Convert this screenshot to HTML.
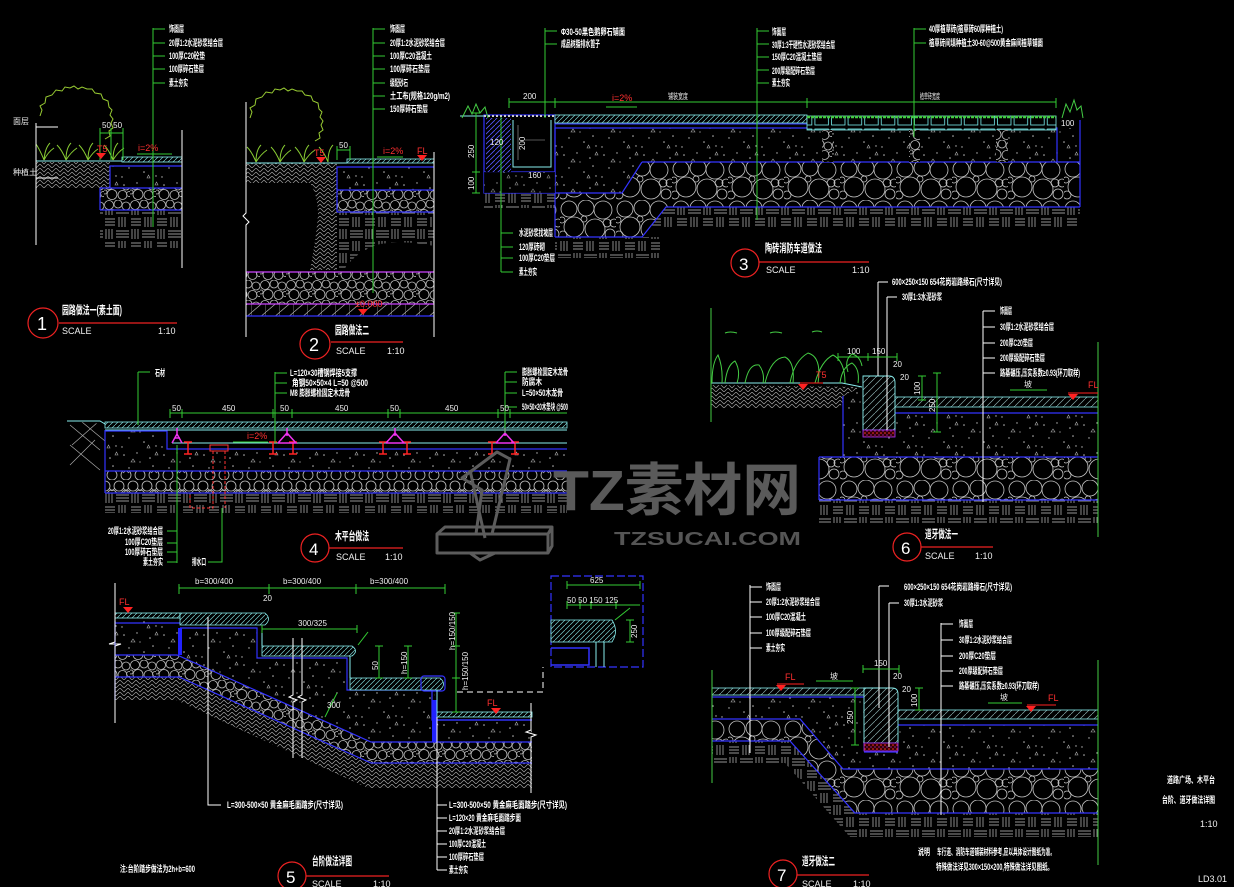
<!DOCTYPE html>
<html><head><meta charset="utf-8">
<style>
html,body{margin:0;padding:0;background:#000;width:1234px;height:887px;overflow:hidden}
svg{display:block}
text{font-family:"Liberation Sans","Noto Sans CJK SC",sans-serif;}
.l{fill:#fff;font-size:9px;font-weight:bold}
.t{fill:#fff;font-size:11.5px;font-weight:bold}
.s{fill:#f0f0f0;font-size:9px}
.g{fill:#eee;font-size:8px}
.r{fill:#ff3030;font-size:9px}
</style></head><body>
<svg width="1234" height="887" viewBox="0 0 1234 887" xmlns="http://www.w3.org/2000/svg">
<defs>
<pattern id="cob" width="26" height="20" patternUnits="userSpaceOnUse">
<rect width="26" height="20" fill="#000"/>
<g fill="none" stroke="#bdbdbd" stroke-width="0.8">
<circle cx="5" cy="5" r="4.5"/><circle cx="14" cy="4" r="4"/><circle cx="22" cy="6" r="4"/>
<circle cx="8" cy="14.5" r="5"/><circle cx="18.5" cy="15" r="4.5"/><circle cx="25" cy="14" r="2.5"/><circle cx="1" cy="12" r="2"/>
</g></pattern>
<pattern id="cobL" width="56" height="40" patternUnits="userSpaceOnUse">
<rect width="56" height="40" fill="#000"/>
<g fill="none" stroke="#c4c4c4" stroke-width="0.8">
<circle cx="9" cy="9" r="8"/><circle cx="26" cy="8" r="8"/><circle cx="43" cy="10" r="9"/><circle cx="54" cy="23" r="4"/>
<circle cx="14" cy="27" r="10"/><circle cx="35" cy="29" r="10"/><circle cx="50" cy="34" r="5"/><circle cx="3" cy="35" r="4"/>
<circle cx="24" cy="19" r="3"/><circle cx="47" cy="23" r="4"/><circle cx="2" cy="20" r="3"/>
</g></pattern>
<pattern id="cobX" width="28" height="20" patternUnits="userSpaceOnUse">
<rect width="28" height="20" fill="#000"/>
<g fill="none" stroke="#c0c0c0" stroke-width="0.8">
<circle cx="7" cy="6" r="5"/><circle cx="21" cy="6" r="5"/><circle cx="0" cy="15" r="5"/><circle cx="14" cy="15" r="5"/><circle cx="28" cy="15" r="5"/>
<path d="M11 8L17 13M17 8L11 13M25 8L28 11M3 8L0 11"/>
</g></pattern>
<pattern id="soil" width="26" height="24" patternUnits="userSpaceOnUse">
<rect width="26" height="24" fill="#000"/>
<path d="M1 3H11M1 6H11M1 9H11M15 1V11M18 1V11M21 1V11M2 13V23M5 13V23M8 13V23M12 15H25M12 18H25M12 21H25" stroke="#c4c4c4" stroke-width="0.7" fill="none"/>
</pattern>
<pattern id="hs" width="8" height="8" patternUnits="userSpaceOnUse">
<rect width="8" height="8" fill="#000"/>
<path d="M0 0L4 4L8 0M0 4L4 8L8 4" stroke="#a0a0a0" stroke-width="0.7" fill="none"/>
</pattern>
<pattern id="conc" width="40" height="30" patternUnits="userSpaceOnUse">
<rect width="40" height="30" fill="#000"/>
<g fill="#bbb"><circle cx="4" cy="5" r="0.8"/><circle cx="17" cy="3" r="0.7"/><circle cx="30" cy="8" r="0.8"/><circle cx="9" cy="18" r="0.7"/><circle cx="24" cy="22" r="0.8"/><circle cx="36" cy="26" r="0.7"/><circle cx="2" cy="27" r="0.7"/><circle cx="33" cy="16" r="0.8"/><circle cx="20" cy="12" r="0.6"/></g>
<path d="M11 12l4 0l-2-3zM27 28l3 0l-1.5-3zM35 5l3 0l-1.5-3z" stroke="#aaa" stroke-width="0.6" fill="none"/>
</pattern>
<pattern id="dg" width="5" height="5" patternUnits="userSpaceOnUse">
<rect width="5" height="5" fill="#000"/><path d="M0 5L5 0" stroke="#7cc" stroke-width="0.7"/>
</pattern>
<pattern id="dgw" width="7" height="7" patternUnits="userSpaceOnUse">
<rect width="7" height="7" fill="#000"/><path d="M0 7L7 0" stroke="#8aa" stroke-width="0.7"/>
</pattern>
<pattern id="dgB" width="5" height="5" patternUnits="userSpaceOnUse">
<rect width="5" height="5" fill="#000"/><path d="M0 5L5 0" stroke="#55f" stroke-width="0.8"/>
</pattern>
<pattern id="tri" width="14" height="12" patternUnits="userSpaceOnUse">
<rect width="14" height="12" fill="#000"/><path d="M0 12L14 0M14 0V12" stroke="#aaa" stroke-width="0.7"/>
</pattern>
<pattern id="cell" width="16.6" height="14" patternUnits="userSpaceOnUse">
<rect width="16.6" height="14" fill="#000"/><rect x="1.5" y="3" width="13.5" height="10" fill="none" stroke="#7ee" stroke-width="0.8"/>
</pattern>
<pattern id="rd" width="4" height="4" patternUnits="userSpaceOnUse">
<rect width="4" height="4" fill="#300"/><circle cx="1" cy="1" r="0.8" fill="#f33"/><circle cx="3" cy="3" r="0.6" fill="#c3f"/>
</pattern>
</defs>
<rect width="1234" height="887" fill="#000"/>

<!-- ================= DETAIL 1 ================= -->
<g>
<rect x="36" y="162" width="74" height="26" fill="url(#hs)"/>
<rect x="100" y="186" width="10" height="4" fill="url(#hs)"/>
<rect x="110" y="166" width="72" height="22" fill="url(#conc)"/>
<rect x="100" y="188" width="82" height="22" fill="url(#cob)"/>
<rect x="100" y="210" width="82" height="38" fill="url(#soil)"/>
<g stroke="#3333ff" stroke-width="1.2" fill="none">
<path d="M110 188V166H182"/><path d="M100 188H182M100 210H182M100 188V210"/>
</g>
<rect x="122" y="157" width="60" height="5" fill="url(#dg)" stroke="#8ee" stroke-width="0.8"/>
<path d="M36 161H122" stroke="#8ee" stroke-width="1"/>
<path d="M40 116l2-6-2-4 5-3 1-6 6-2 4-5 6 1 3-4 5 1 4-2 4 3 4-2 5 2 5 0 3 4 6 1 2 5 5 2 1 6 3 3-2 5 3 4-2 4 2 5-4 3 1 5-5 3" stroke="#9c3" fill="none" stroke-width="1"/>
<g stroke="#8c3" fill="none" stroke-width="1">
<path d="M44 160q-4-10-8-16M44 160q1-12 6-17M44 160q4-8 10-12"/>
<path d="M66 160q-4-10-9-15M66 160q0-12 5-17M66 160q5-8 11-12"/>
<path d="M88 160q-4-10-9-15M88 160q0-12 5-17M88 160q5-8 10-11"/>
<path d="M113 160q-4-10-9-15M113 160q0-12 5-17M113 160q5-8 11-12"/>
</g>
<g stroke="#fff" stroke-width="1"><path d="M36 123V245M36 127H58M36 178H58M182 130V268"/></g>
<text x="13" y="124" class="g">面层</text><text x="13" y="175" class="g">种植土</text>
<g stroke="#3c3" stroke-width="1" fill="none"><path d="M153 28V227M153 29H165M153 43H165M153 56H165M153 69H165M153 83H165"/>
<path d="M100 133H123M100 128V160M111 128V160M123 128V160"/></g>
<text x="102" y="128" class="g" font-size="7">50 50</text>
<text x="169" y="32" class="l" textLength="15" lengthAdjust="spacingAndGlyphs">饰面层</text>
<text x="169" y="46" class="l" textLength="54" lengthAdjust="spacingAndGlyphs">20厚1:2水泥砂浆结合层</text>
<text x="169" y="59" class="l" textLength="36" lengthAdjust="spacingAndGlyphs">100厚C20砼垫</text>
<text x="169" y="72" class="l" textLength="35" lengthAdjust="spacingAndGlyphs">100厚碎石垫层</text>
<text x="169" y="86" class="l" textLength="19" lengthAdjust="spacingAndGlyphs">素土夯实</text>
<text x="138" y="151" class="r">i=2%</text><path d="M137 154H172" stroke="#3c3"/>
<text x="97" y="152" class="r">T5</text><polygon points="96,153 106,153 101,159" fill="#f22"/>
<circle cx="43" cy="323" r="15" fill="none" stroke="#e22" stroke-width="1.2"/>
<text x="37" y="330" fill="#fff" font-size="18">1</text>
<text x="62" y="314" class="t" textLength="60" lengthAdjust="spacingAndGlyphs">园路做法一(素土面)</text>
<path d="M59 323H177" stroke="#e22" stroke-width="1.2"/>
<text x="62" y="334" class="s">SCALE</text><text x="158" y="334" class="s">1:10</text>
</g>

<!-- ================= DETAIL 2 ================= -->
<g>
<rect x="246" y="163" width="91" height="20" fill="url(#hs)"/>
<path d="M310 183H337V270H310Q316 240 318 215Q318 195 310 183Z" fill="url(#hs)"/>
<rect x="337" y="167" width="97" height="23" fill="url(#conc)"/>
<rect x="337" y="190" width="97" height="22" fill="url(#cob)"/>
<path d="M337 212H434V246Q405 240 380 244Q358 250 345 268H337Z" fill="url(#soil)"/>
<g stroke="#3333ff" stroke-width="1.2" fill="none"><path d="M337 190V167H434M337 190H434M337 212H434M337 212V190"/></g>
<rect x="347" y="159" width="87" height="4" fill="url(#dg)" stroke="#8ee" stroke-width="0.8"/>
<path d="M246 163H347" stroke="#8ee"/>
<rect x="246" y="272" width="188" height="32" fill="url(#cob)"/>
<rect x="246" y="304" width="188" height="12" fill="url(#tri)"/>
<path d="M246 272H434M246 304H434" stroke="#c4f" stroke-width="1.2"/>
<path d="M246 316H434" stroke="#33f" stroke-width="1.2"/>
<path d="M250 118l2-6-2-4 5-3 1-6 6-2 4-5 6 1 3-4 5 1 4-2 4 3 4-2 5 2 5 0 3 4 6 1 2 5 5 2 1 6 3 3-2 5 3 4-2 4 2 5-4 3 1 5-5 3" stroke="#9c3" fill="none"/>
<g stroke="#8c3" fill="none">
<path d="M256 162q-4-10-9-15M256 162q0-12 5-17M256 162q5-8 11-12"/>
<path d="M280 162q-4-10-9-15M280 162q0-12 5-17M280 162q5-8 11-12"/>
<path d="M304 162q-4-10-9-15M304 162q0-12 5-17M304 162q5-8 11-12"/>
<path d="M328 162q-4-10-9-15M328 162q0-12 5-17"/>
</g>
<g stroke="#fff" fill="none"><path d="M246 102V213l-3 3 3 3 3 3-3 3V337M434 152V337"/></g>
<g stroke="#3c3" fill="none"><path d="M373 28V293M373 29H385M373 43H385M373 56H385M373 69H385M373 83H385M373 96H385M373 109H385"/>
<path d="M337 150H350M337 146V160M350 146V160"/></g>
<text x="339" y="148" class="g" font-size="7">50</text>
<text x="390" y="32" class="l" textLength="15" lengthAdjust="spacingAndGlyphs">饰面层</text>
<text x="390" y="46" class="l" textLength="55" lengthAdjust="spacingAndGlyphs">20厚1:2水泥砂浆结合层</text>
<text x="390" y="59" class="l" textLength="42" lengthAdjust="spacingAndGlyphs">100厚C20混凝土</text>
<text x="390" y="72" class="l" textLength="40" lengthAdjust="spacingAndGlyphs">100厚碎石垫层</text>
<text x="390" y="86" class="l" textLength="18" lengthAdjust="spacingAndGlyphs">级配砂石</text>
<text x="390" y="99" class="l" textLength="60" lengthAdjust="spacingAndGlyphs">土工布(规格120g/m2)</text>
<text x="390" y="112" class="l" textLength="38" lengthAdjust="spacingAndGlyphs">150厚碎石垫层</text>
<text x="383" y="154" class="r">i=2%</text><path d="M377 157H403" stroke="#3c3"/>
<text x="314" y="156" class="r">T5</text><polygon points="316,157 326,157 321,163" fill="#f22"/>
<text x="417" y="154" class="r">FL</text><polygon points="417,155 427,155 422,161" fill="#f22"/>
<text x="355" y="307" class="r" font-size="7">±0.000</text><polygon points="358,309 368,309 363,315" fill="#f22"/>
<circle cx="315" cy="344" r="15" fill="none" stroke="#e22" stroke-width="1.2"/>
<text x="309" y="351" fill="#fff" font-size="18">2</text>
<text x="335" y="334" class="t" textLength="34" lengthAdjust="spacingAndGlyphs">园路做法二</text>
<path d="M331 342H403" stroke="#e22" stroke-width="1.2"/>
<text x="336" y="354" class="s">SCALE</text><text x="387" y="354" class="s">1:10</text>
</g>

<!-- ================= DETAIL 3 ================= -->
<g>
<rect x="484" y="193" width="71" height="15" fill="url(#soil)"/>
<rect x="555" y="237" width="105" height="21" fill="url(#soil)"/>
<rect x="640" y="207" width="440" height="21" fill="url(#soil)"/>
<polygon points="642,162 1080,162 1080,207 666,207 642,237 555,237 555,193 622,193" fill="url(#cobL)"/>
<polygon points="555,128 1057,128 1057,162 642,162 622,193 555,193" fill="url(#conc)"/>
<rect x="1057" y="128" width="23" height="34" fill="url(#conc)"/>
<g stroke="#3333ff" stroke-width="1.2" fill="none">
<path d="M642 162H1080M642 162L622 193H555M1080 207H666L642 237H555M555 128V237M555 128H1057V162M1080 120V207"/>
<rect x="484" y="115" width="71" height="78"/>
<path d="M484 172H555"/>
</g>
<rect x="486" y="118" width="25" height="54" fill="url(#dgB)"/>
<path d="M513 120V167H551V120" stroke="#8ee" fill="none"/>
<path d="M518 125V160M525 140H545" stroke="#aaa" stroke-width="0.6"/>
<rect x="484" y="172" width="71" height="21" fill="url(#conc)" opacity="0.8"/>
<path d="M484 116H555" stroke="#ccc" stroke-width="2" stroke-dasharray="2 2"/>
<rect x="555" y="115" width="252" height="8" fill="url(#dg)" stroke="#8ee" stroke-width="0.8"/>
<path d="M555 124H807M555 128H807" stroke="#33f" stroke-width="1"/>
<rect x="807" y="116" width="249" height="14" fill="url(#cell)" stroke="#8ee" stroke-width="0.8"/>
<path d="M807 117H1056" stroke="#4c4" stroke-width="2.5" stroke-dasharray="3 1"/>
<rect x="822" y="130" width="12" height="32" fill="url(#cob)"/>
<rect x="909" y="130" width="11" height="32" fill="url(#cob)"/>
<rect x="996" y="130" width="12" height="32" fill="url(#cob)"/>
<path d="M460 116H484" stroke="#8ee"/>
<path d="M462 118l6-12l4 8l4-10l4 9l5-6l3 11" stroke="#4c4" fill="none"/>
<path d="M1062 118l4-14l4 8l4-12l3 10l4-4l2 12" stroke="#4c4" fill="none"/>
<g stroke="#3c3" fill="none">
<path d="M509 102H1056M509 98V108M555 98V108M807 98V108M1056 98V108"/>
<path d="M545 28V118M545 31H557M545 44H557"/>
<path d="M757 28V220M757 31H769M757 44H769M757 57H769M757 70H769M757 83H769"/>
<path d="M914 28V137M914 29H926M914 43H926"/>
<path d="M476 113V193M472 113H480M472 172H480M472 193H480"/>
<path d="M501 117V272M501 233H513M501 247H513M501 258H513M501 272H513"/>
<path d="M606 107H637"/>
</g>
<text x="523" y="99" class="g">200</text>
<text x="612" y="101" class="r" font-size="8">i=2%</text>
<text x="668" y="99" class="g" textLength="20" lengthAdjust="spacingAndGlyphs">铺装宽度</text>
<text x="920" y="99" class="g" textLength="20" lengthAdjust="spacingAndGlyphs">植草砖宽度</text>
<text x="1061" y="126" class="g">100</text>
<text transform="translate(474,158) rotate(-90)" class="g">250</text>
<text transform="translate(474,190) rotate(-90)" class="g">100</text>
<text x="490" y="145" class="g" font-size="7">120</text>
<text transform="translate(525,150) rotate(-90)" class="g" font-size="7">200</text>
<text x="528" y="178" class="g" font-size="7">160</text>
<text x="561" y="35" class="l" textLength="64" lengthAdjust="spacingAndGlyphs">Φ30-50黑色鹅卵石铺面</text>
<text x="561" y="47" class="l" textLength="39" lengthAdjust="spacingAndGlyphs">成品树脂排水篦子</text>
<text x="772" y="35" class="l" textLength="14" lengthAdjust="spacingAndGlyphs">饰面层</text>
<text x="772" y="48" class="l" textLength="63" lengthAdjust="spacingAndGlyphs">30厚1:3干硬性水泥砂浆结合层</text>
<text x="772" y="60" class="l" textLength="50" lengthAdjust="spacingAndGlyphs">150厚C20混凝土垫层</text>
<text x="772" y="74" class="l" textLength="43" lengthAdjust="spacingAndGlyphs">200厚级配碎石垫层</text>
<text x="772" y="86" class="l" textLength="18" lengthAdjust="spacingAndGlyphs">素土夯实</text>
<text x="929" y="32" class="l" textLength="74" lengthAdjust="spacingAndGlyphs">40厚植草砖(植草砖60厚种植土)</text>
<text x="929" y="46" class="l" textLength="114" lengthAdjust="spacingAndGlyphs">植草砖间填种植土30-60@500黄金麻间植草铺面</text>
<text x="519" y="236" class="l" textLength="34" lengthAdjust="spacingAndGlyphs">水泥砂浆找坡层</text>
<text x="519" y="250" class="l" textLength="26" lengthAdjust="spacingAndGlyphs">120厚砖砌</text>
<text x="519" y="261" class="l" textLength="36" lengthAdjust="spacingAndGlyphs">100厚C20垫层</text>
<text x="519" y="275" class="l" textLength="18" lengthAdjust="spacingAndGlyphs">素土夯实</text>
<circle cx="745" cy="263" r="14" fill="none" stroke="#e22" stroke-width="1.2"/>
<text x="739" y="270" fill="#fff" font-size="17">3</text>
<text x="765" y="252" class="t" textLength="57" lengthAdjust="spacingAndGlyphs">陶砖消防车道做法</text>
<path d="M759 262H869" stroke="#e22" stroke-width="1.2"/>
<text x="766" y="273" class="s">SCALE</text><text x="852" y="273" class="s">1:10</text>
</g>

<!-- ================= DETAIL 4 ================= -->
<g>
<path d="M70 425L100 450M82 422L105 441M70 445L100 470M70 465L95 440M72 445L98 422" stroke="#aaa" stroke-width="0.7" fill="none"/>
<path d="M67 421H100L105 424" stroke="#8ee"/>
<polygon points="105,431 167,431 167,449 567,449 567,471 105,471" fill="url(#conc)"/>
<rect x="105" y="471" width="462" height="22" fill="url(#cobX)"/>
<rect x="105" y="493" width="462" height="20" fill="url(#soil)"/>
<rect x="105" y="422" width="462" height="6" fill="url(#dg)" stroke="#8ee" stroke-width="0.8"/>
<path d="M105 430H567M172 443H567" stroke="#8ee"/>
<g stroke="#3333ff" stroke-width="1.2" fill="none"><path d="M105 431H167V449H567M105 471H567M105 493H567M105 430V493"/></g>
<g stroke="#f22" stroke-width="1.5" fill="none">
<path d="M184 442H192M188 442V454M184 454H192"/>
<path d="M269 442H277M273 442V454M269 454H277"/>
<path d="M289 442H297M293 442V454M289 454H297"/>
<path d="M379 442H387M383 442V454M379 454H387"/>
<path d="M403 442H411M407 442V454M403 454H411"/>
<path d="M488 442H496M492 442V454M488 454H496"/>
<path d="M511 442H519M515 442V454M511 454H519"/>
</g>
<g stroke="#e3e" stroke-width="1.5" fill="none">
<path d="M172 443L177 434L182 443M175 438h5M177 428V436"/>
<path d="M278 443L287 433L296 443H278M287 428V436"/>
<path d="M386 443L395 433L404 443H386M395 428V436"/>
<path d="M496 443L505 433L514 443H496M505 428V436"/>
</g>
<g stroke="#f33" fill="none" stroke-width="1"><rect x="210" y="445" width="18" height="6"/><path d="M213 451V508H190V495M225 451V508" stroke-dasharray="3 2"/></g>
<g stroke="#3c3" fill="none">
<path d="M170 413H567M170 409V418M182 409V418M273 409V418M292 409V418M388 409V418M400 409V418M498 409V418M510 409V418"/>
<path d="M138 372H150M138 372V425"/>
<path d="M275 372V443M275 373H287M275 383H287M275 393H287"/>
<path d="M505 372V433M505 372H517M505 382H517M505 393H517M505 407H517"/>
<path d="M177 445V563M177 531H167M177 543H167M177 552H167M177 562H167"/>
<path d="M208 562H222V508"/>
<path d="M233 442H268"/>
</g>
<text x="172" y="411" class="g" font-size="7">50</text><text x="222" y="411" class="g" font-size="7">450</text>
<text x="280" y="411" class="g" font-size="7">50</text><text x="335" y="411" class="g" font-size="7">450</text>
<text x="390" y="411" class="g" font-size="7">50</text><text x="445" y="411" class="g" font-size="7">450</text>
<text x="500" y="411" class="g" font-size="7">50</text>
<text x="247" y="439" class="r" font-size="8">i=2%</text>
<text x="155" y="376" class="l" textLength="10" lengthAdjust="spacingAndGlyphs">石材</text>
<text x="290" y="376" class="l" textLength="67" lengthAdjust="spacingAndGlyphs">L=120×30槽钢焊接5支撑</text>
<text x="292" y="386" class="l" textLength="76" lengthAdjust="spacingAndGlyphs">角钢50×50×4 L=50 @500</text>
<text x="290" y="396" class="l" textLength="60" lengthAdjust="spacingAndGlyphs">M8 膨胀螺栓固定木龙骨</text>
<text x="522" y="375" class="l" textLength="46" lengthAdjust="spacingAndGlyphs">膨胀螺栓固定木龙骨</text>
<text x="522" y="385" class="l" textLength="20" lengthAdjust="spacingAndGlyphs">防腐木</text>
<text x="522" y="396" class="l" textLength="41" lengthAdjust="spacingAndGlyphs">L=50×50木龙骨</text>
<text x="522" y="410" class="l" textLength="46" lengthAdjust="spacingAndGlyphs">50×50×20木垫块 @500</text>
<text x="108" y="534" class="l" textLength="55" lengthAdjust="spacingAndGlyphs">20厚1:2水泥砂浆结合层</text>
<text x="125" y="545" class="l" textLength="38" lengthAdjust="spacingAndGlyphs">100厚C20垫层</text>
<text x="125" y="555" class="l" textLength="38" lengthAdjust="spacingAndGlyphs">100厚碎石垫层</text>
<text x="143" y="565" class="l" textLength="20" lengthAdjust="spacingAndGlyphs">素土夯实</text>
<text x="192" y="565" class="l" textLength="14" lengthAdjust="spacingAndGlyphs">排水口</text>
<circle cx="315" cy="548" r="14" fill="none" stroke="#e22" stroke-width="1.2"/>
<text x="309" y="555" fill="#fff" font-size="17">4</text>
<text x="335" y="540" class="t" textLength="34" lengthAdjust="spacingAndGlyphs">木平台做法</text>
<path d="M329 548H403" stroke="#e22" stroke-width="1.2"/>
<text x="336" y="560" class="s">SCALE</text><text x="385" y="560" class="s">1:10</text>
</g>

<!-- ================= WATERMARK ================= -->
<g fill="none" stroke="#5c5c5c" stroke-width="3" stroke-linejoin="round">
<path d="M462 478L497 452L510 459L492 534H476L482 490Z"/>
<path d="M470 470L485 538"/>
<path d="M437 534H548V553H437Z"/>
<path d="M437 534L445 527H552L548 534M548 553L552 546V527"/>
<path d="M470 553L480 560L495 553"/>
</g>
<text x="553" y="510" fill="#5a5a5a" font-size="57" font-weight="bold" textLength="248" lengthAdjust="spacingAndGlyphs">TZ素材网</text>
<text x="614" y="545" fill="#555" font-size="18" font-weight="bold" textLength="187" lengthAdjust="spacingAndGlyphs">TZSUCAI.COM</text>

<!-- ================= DETAIL 5 ================= -->
<g>
<polygon points="115,677 179,677 371,763 532,763 532,788 368,788 176,700 115,700" fill="url(#hs)"/>
<polygon points="115,655 177,655 371,742 532,742 532,763 371,763 179,677 115,677" fill="url(#cob)"/>
<polygon points="115,621 180,621 180,628 257,628 257,658 347,658 347,690 435,690 435,720 532,720 532,742 371,742 177,655 115,655" fill="url(#conc)"/>
<g stroke="#3333ff" stroke-width="1.2" fill="none">
<path d="M115 655H177L371 742H532M115 677H179L371 763H532"/>
<path d="M115 623H180M180 628H257V658H347V690H432V720H532"/>
<path d="M115 621V700"/>
</g>
<rect x="178" y="628" width="4" height="27" fill="#22f"/>
<rect x="432" y="700" width="5" height="42" fill="#22f"/>
<rect x="115" y="613" width="65" height="5" fill="url(#dg)" stroke="#8ee" stroke-width="0.8"/>
<path d="M180 613H265Q272 619 265 625H180Z" fill="url(#dg)" stroke="#8ee" stroke-width="0.8"/>
<path d="M262 646H352Q359 651 352 656H262Z" fill="url(#dg)" stroke="#8ee" stroke-width="0.8"/>
<path d="M350 678H440Q447 684 440 690H350Z" fill="url(#dg)" stroke="#8ee" stroke-width="0.8"/>
<rect x="421" y="676" width="24" height="15" rx="3" fill="none" stroke="#33f" stroke-width="1.2"/>
<rect x="437" y="712" width="95" height="5" fill="url(#dg)" stroke="#8ee" stroke-width="0.8"/>
<path d="M437 720H532" stroke="#33f" stroke-width="1.2"/>
<path d="M262 625V646M350 656V678M437 690V712" stroke="#8ee"/>
<g stroke="#fff" fill="none" stroke-width="1">
<path d="M115 583V642l-6 2 12 0-6 2V723"/>
<path d="M293 638V695l-4 2 8 3-4 2V758M302 638V695l-4 2 8 3-4 2V758"/>
<path d="M531 703V730l-5 2 10 3-5 2V793"/>
<path d="M208 617V805H221"/>
<path d="M437 717V870M437 805H447M437 818H447M437 831H447M437 844H447M437 857H447M437 870H447"/>
<path d="M457 692H543V667" stroke-dasharray="6 4"/>
</g>
<rect x="551" y="576" width="92" height="91" fill="none" stroke="#33f" stroke-width="1.2" stroke-dasharray="8 3"/>
<path d="M551 620H612Q619 631 612 642H551Z" fill="url(#dg)" stroke="#8ee" stroke-width="0.8"/>
<path d="M551 648H589V665H551" fill="none" stroke="#33f" stroke-width="1.5"/>
<path d="M596 642V667M604 642V667" stroke="#8ee"/>
<g stroke="#3c3" fill="none">
<path d="M179 588H445M179 584V594M269 584V594M356 584V594M445 584V594"/>
<path d="M262 629H357M262 625V633M357 625V633"/>
<path d="M379 646V678M375 646H383M375 678H383"/>
<path d="M408 646V678M404 646H412M404 678H412"/>
<path d="M456 613V712M452 613H460M452 646H460M452 678H460M452 712H460"/>
<path d="M325 717L337 693"/>
<path d="M358 645L368 632"/>
<path d="M567 585H640M567 581V589M640 581V589M567 605H640M567 601V609M580 601V609M591 601V609M616 601V609"/>
<path d="M630 620V642M626 620H634M626 642H634M615 620L630 608"/>
</g>
<text x="195" y="584" class="g" font-size="7">b=300/400</text>
<text x="283" y="584" class="g" font-size="7">b=300/400</text>
<text x="370" y="584" class="g" font-size="7">b=300/400</text>
<text x="263" y="601" class="g" font-size="7">20</text>
<text x="298" y="626" class="g" font-size="7">300/325</text>
<text transform="translate(378,670) rotate(-90)" class="g" font-size="7">50</text>
<text transform="translate(407,674) rotate(-90)" class="g" font-size="7">h=150</text>
<text transform="translate(455,650) rotate(-90)" class="g" font-size="7">h=150/150</text>
<text transform="translate(468,690) rotate(-90)" class="g" font-size="7">h=150/150</text>
<text x="327" y="708" class="g" font-size="7">300</text>
<text x="590" y="583" class="g" font-size="7">625</text>
<text x="567" y="603" class="g" font-size="6">50 50 150 125</text>
<text transform="translate(637,638) rotate(-90)" class="g" font-size="7">250</text>
<text x="119" y="605" class="r" font-size="8">FL</text><polygon points="123,607 133,607 128,613" fill="#f22"/>
<text x="487" y="706" class="r" font-size="8">FL</text><polygon points="491,708 501,708 496,714" fill="#f22"/>
<text x="227" y="808" class="l" textLength="116" lengthAdjust="spacingAndGlyphs">L=300-500×50 黄金麻毛面踏步(尺寸详见)</text>
<text x="449" y="808" class="l" textLength="118" lengthAdjust="spacingAndGlyphs">L=300-500×50 黄金麻毛面踏步(尺寸详见)</text>
<text x="449" y="821" class="l" textLength="72" lengthAdjust="spacingAndGlyphs">L=120×20 黄金麻毛面踏步面</text>
<text x="449" y="834" class="l" textLength="56" lengthAdjust="spacingAndGlyphs">20厚1:2水泥砂浆结合层</text>
<text x="449" y="847" class="l" textLength="37" lengthAdjust="spacingAndGlyphs">100厚C20混凝土</text>
<text x="449" y="860" class="l" textLength="35" lengthAdjust="spacingAndGlyphs">100厚碎石垫层</text>
<text x="449" y="873" class="l" textLength="19" lengthAdjust="spacingAndGlyphs">素土夯实</text>
<text x="120" y="872" class="l" textLength="75" lengthAdjust="spacingAndGlyphs">注:台阶踏步做法为2h+b=600</text>
<circle cx="292" cy="876" r="14" fill="none" stroke="#e22" stroke-width="1.2"/>
<text x="286" y="883" fill="#fff" font-size="17">5</text>
<text x="312" y="865" class="t" textLength="40" lengthAdjust="spacingAndGlyphs">台阶做法详图</text>
<path d="M306 876H389" stroke="#e22" stroke-width="1.2"/>
<text x="312" y="887" class="s">SCALE</text><text x="373" y="887" class="s">1:10</text>
</g>

<!-- ================= DETAIL 6 ================= -->
<g>
<polygon points="711,385 860,387 845,396 840,408 711,408" fill="url(#hs)"/>
<polygon points="843,396 862,387 863,437 895,437 895,413 1098,413 1098,457 843,457" fill="url(#conc)"/>
<rect x="819" y="457" width="279" height="43" fill="url(#cobL)"/>
<rect x="819" y="500" width="279" height="23" fill="url(#soil)"/>
<g stroke="#3333ff" stroke-width="1.2" fill="none"><path d="M843 396V457M819 457H1098M819 500H1098M819 457V500M895 413H1098"/></g>
<rect x="895" y="397" width="203" height="10" fill="url(#dgw)" stroke="#8ee" stroke-width="0.8"/>
<path d="M711 383H842L862 387" stroke="#8ee"/>
<path d="M863 376H889Q895 376 895 383V430H863Z" fill="url(#dgw)" stroke="#8ee" stroke-width="0.9"/>
<rect x="863" y="430" width="32" height="7" fill="url(#rd)" stroke="#a3f" stroke-width="0.8"/>
<g stroke="#4c4" fill="none" stroke-width="1">
<path d="M712 383q0-20 6-28q5 12 4 28M725 383q2-18 10-22q6 10 2 22M745 383q4-20 14-18q6 8 4 18M765 383q6-25 20-26q10 5 8 26M790 383q4-22 18-30q14 4 10 30M815 383q6-22 18-28q12 6 12 28M840 383q2-16 12-20q8 6 6 20"/>
<path d="M848 372q-4-12 4-18q8 2 10 12M725 333q5-2 12 0M770 333q5-2 12 0M812 332q5-2 10 0"/>
<path d="M711 308V422M1098 342V537"/>
</g>
<g stroke="#fff" fill="none">
<path d="M878 282H888M878 282V376"/>
<path d="M887 297H897M887 297V430"/>
<path d="M983 311V502M983 311H995M983 327H995M983 343H995M983 358H995M983 373H995"/>
</g>
<g stroke="#3c3" fill="none">
<path d="M838 357H897M838 353V361M868 353V361M897 353V361"/>
<path d="M922 376V400M918 376H926M918 400H926"/>
<path d="M937 373V432M933 373H941M933 432H941"/>
<path d="M1010 390H1047"/>
</g>
<text x="847" y="354" class="g" font-size="7">100</text><text x="872" y="354" class="g" font-size="7">150</text>
<text x="893" y="367" class="g" font-size="7">20</text><text x="900" y="380" class="g" font-size="6">20</text>
<text transform="translate(920,395) rotate(-90)" class="g" font-size="7">100</text>
<text transform="translate(935,412) rotate(-90)" class="g" font-size="7">250</text>
<text x="1024" y="387" class="g">坡</text>
<text x="816" y="378" class="r" font-size="8">T5</text><path d="M800 383H823" stroke="#f22"/><polygon points="798,384 808,384 803,390" fill="#f22"/>
<text x="1088" y="388" class="r" font-size="8">FL</text><path d="M1068 393H1098" stroke="#f22"/><polygon points="1068,394 1078,394 1073,400" fill="#f22"/>
<text x="892" y="285" class="l" textLength="110" lengthAdjust="spacingAndGlyphs">600×250×150 654花岗岩路缘石(尺寸详见)</text>
<text x="902" y="300" class="l" textLength="40" lengthAdjust="spacingAndGlyphs">30厚1:3水泥砂浆</text>
<text x="1000" y="314" class="l" textLength="12" lengthAdjust="spacingAndGlyphs">饰面层</text>
<text x="1000" y="330" class="l" textLength="54" lengthAdjust="spacingAndGlyphs">30厚1:2水泥砂浆结合层</text>
<text x="1000" y="346" class="l" textLength="33" lengthAdjust="spacingAndGlyphs">200厚C20垫层</text>
<text x="1000" y="361" class="l" textLength="45" lengthAdjust="spacingAndGlyphs">200厚级配碎石垫层</text>
<text x="1000" y="376" class="l" textLength="80" lengthAdjust="spacingAndGlyphs">路基碾压,压实系数≥0.93(环刀取样)</text>
<circle cx="907" cy="547" r="14" fill="none" stroke="#e22" stroke-width="1.2"/>
<text x="901" y="554" fill="#fff" font-size="17">6</text>
<text x="925" y="538" class="t" textLength="33" lengthAdjust="spacingAndGlyphs">道牙做法一</text>
<path d="M921 547H993" stroke="#e22" stroke-width="1.2"/>
<text x="925" y="559" class="s">SCALE</text><text x="975" y="559" class="s">1:10</text>
</g>

<!-- ================= DETAIL 7 ================= -->
<g>
<polygon points="712,741 790,741 855,813 1098,813 1098,837 850,837 785,763 712,763" fill="url(#soil)"/>
<polygon points="712,719 800,719 843,769 1098,769 1098,813 855,813 790,741 712,741" fill="url(#cobL)"/>
<polygon points="712,697 864,697 864,752 898,752 898,725 1098,725 1098,769 843,769 800,719 712,719" fill="url(#conc)"/>
<g stroke="#3333ff" stroke-width="1.2" fill="none">
<path d="M712 697H864M898 725H1098M712 719H800L843 769H1098M712 741H790L855 813H1098"/>
<path d="M864 752H898"/>
</g>
<rect x="712" y="688" width="152" height="7" fill="url(#dgw)" stroke="#8ee" stroke-width="0.8"/>
<path d="M864 688H892Q898 688 898 694V743H864Z" fill="url(#dgw)" stroke="#8ee" stroke-width="0.9"/>
<rect x="864" y="743" width="34" height="8" fill="url(#rd)" stroke="#a3f" stroke-width="0.8"/>
<rect x="898" y="710" width="200" height="9" fill="url(#dgw)" stroke="#8ee" stroke-width="0.8"/>
<g stroke="#4c4" fill="none"><path d="M712 670V783M1098 660V865"/></g>
<g stroke="#fff" fill="none">
<path d="M750 585V753M750 587H762M750 602H762M750 617H762M750 633H762M750 648H762"/>
<path d="M879 586H889M879 586V708"/>
<path d="M889 603H899M889 603V747"/>
<path d="M941 623V815M941 624H953M941 640H953M941 656H953M941 671H953M941 686H953"/>
</g>
<g stroke="#3c3" fill="none">
<path d="M863 669H899M863 665V673M899 665V673"/>
<path d="M855 688V745M851 688H859M851 745H859"/>
<path d="M919 688V710M915 688H923M915 710H923"/>
<path d="M816 681H853M988 703H1022"/>
</g>
<text x="874" y="666" class="g" font-size="7">150</text>
<text x="893" y="679" class="g" font-size="7">20</text>
<text x="902" y="692" class="g" font-size="6">20</text>
<text transform="translate(917,707) rotate(-90)" class="g" font-size="7">100</text>
<text transform="translate(853,724) rotate(-90)" class="g" font-size="7">250</text>
<text x="830" y="679" class="g">坡</text><text x="1000" y="700" class="g">坡</text>
<text x="785" y="680" class="r" font-size="8">FL</text><path d="M777 684H804" stroke="#f22"/><polygon points="776,685 786,685 781,691" fill="#f22"/>
<text x="1048" y="701" class="r" font-size="8">FL</text><path d="M1027 705H1056" stroke="#f22"/><polygon points="1026,706 1036,706 1031,712" fill="#f22"/>
<text x="766" y="590" class="l" textLength="15" lengthAdjust="spacingAndGlyphs">饰面层</text>
<text x="766" y="605" class="l" textLength="54" lengthAdjust="spacingAndGlyphs">20厚1:2水泥砂浆结合层</text>
<text x="766" y="620" class="l" textLength="40" lengthAdjust="spacingAndGlyphs">100厚C20混凝土</text>
<text x="766" y="636" class="l" textLength="45" lengthAdjust="spacingAndGlyphs">100厚级配碎石垫层</text>
<text x="766" y="651" class="l" textLength="19" lengthAdjust="spacingAndGlyphs">素土夯实</text>
<text x="904" y="590" class="l" textLength="108" lengthAdjust="spacingAndGlyphs">600×250×150 654花岗岩路缘石(尺寸详见)</text>
<text x="904" y="606" class="l" textLength="39" lengthAdjust="spacingAndGlyphs">30厚1:3水泥砂浆</text>
<text x="959" y="627" class="l" textLength="14" lengthAdjust="spacingAndGlyphs">饰面层</text>
<text x="959" y="643" class="l" textLength="53" lengthAdjust="spacingAndGlyphs">30厚1:2水泥砂浆结合层</text>
<text x="959" y="659" class="l" textLength="37" lengthAdjust="spacingAndGlyphs">200厚C20垫层</text>
<text x="959" y="674" class="l" textLength="44" lengthAdjust="spacingAndGlyphs">200厚级配碎石垫层</text>
<text x="959" y="689" class="l" textLength="80" lengthAdjust="spacingAndGlyphs">路基碾压,压实系数≥0.93(环刀取样)</text>
<text x="918" y="855" class="l" textLength="12" lengthAdjust="spacingAndGlyphs">说明</text>
<text x="937" y="855" class="l" textLength="118" lengthAdjust="spacingAndGlyphs">车行道、消防车道铺装材料参考,应以具体设计图纸为准。</text>
<text x="936" y="870" class="l" textLength="117" lengthAdjust="spacingAndGlyphs">特殊做法详见300×150×200,特殊做法详见图纸。</text>
<circle cx="783" cy="874" r="14" fill="none" stroke="#e22" stroke-width="1.2"/>
<text x="777" y="881" fill="#fff" font-size="17">7</text>
<text x="802" y="865" class="t" textLength="33" lengthAdjust="spacingAndGlyphs">道牙做法二</text>
<path d="M797 875H869" stroke="#e22" stroke-width="1.2"/>
<text x="802" y="887" class="s">SCALE</text><text x="853" y="887" class="s">1:10</text>
</g>

<!-- ================= TITLE BLOCK ================= -->
<text x="1167" y="783" class="l" font-size="10" textLength="48" lengthAdjust="spacingAndGlyphs">道路广场、木平台</text>
<text x="1162" y="803" class="l" font-size="10" textLength="53" lengthAdjust="spacingAndGlyphs">台阶、道牙做法详图</text>
<text x="1200" y="827" class="s" font-size="8">1:10</text>
<text x="1198" y="882" class="s" font-size="8">LD3.01</text>
</svg>
</body></html>
